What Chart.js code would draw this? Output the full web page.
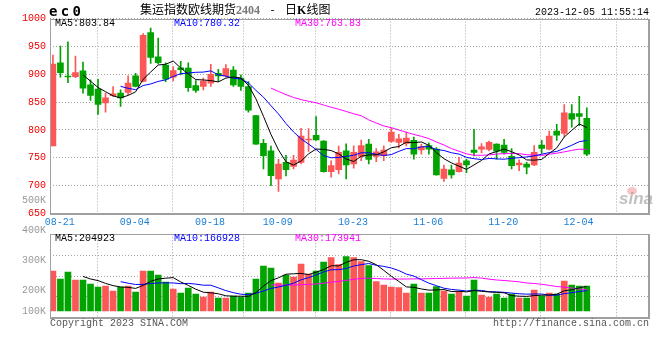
<!DOCTYPE html>
<html><head><meta charset="utf-8">
<script src="https://cdn.jsdelivr.net/npm/chart.js@4.4.0/dist/chart.umd.min.js"></script>
<style>
html,body{margin:0;padding:0;background:#fff;}
#wrap{position:relative;width:660px;height:360px;overflow:hidden;background:#fff;}
canvas{position:absolute;left:0;top:0;}
.t{position:absolute;white-space:pre;font-family:'Liberation Mono',monospace;font-size:10px;line-height:10px;}
</style></head><body>
<div id="wrap">
<canvas id="pc" width="660" height="360" style="width:660px;height:360px"></canvas>
<canvas id="vc" width="660" height="360" style="width:660px;height:360px"></canvas>
<div class="t" style="left:49px;top:4px;font:bold 14px 'DejaVu Sans Mono',monospace;line-height:14px;letter-spacing:3.3px;color:#000">ec0</div>
<div style="position:absolute;left:140px;top:3px;white-space:pre;font-family:'Noto Sans CJK SC',sans-serif;font-size:12px;line-height:12px;color:#000">集运指数欧线期货<span style="font:bold 12px 'Liberation Serif',serif;color:#777">2404</span><span style="display:inline-block;width:25px;text-align:center">-</span>日<b style="font-family:'Liberation Serif',serif">K</b>线图</div>
<div class="t" style="right:11px;top:8px;color:#000">2023-12-05 11:55:14</div>
<div class="t" id="pl0" style="left:55px;top:19px;color:#000"></div>
<div class="t" id="pl1" style="left:174px;top:19px;color:#0000ff"></div>
<div class="t" id="pl2" style="left:295px;top:19px;color:#ff00ff"></div>
<div class="t" id="vl0" style="left:55px;top:234px;color:#000"></div>
<div class="t" id="vl1" style="left:174px;top:234px;color:#0000ff"></div>
<div class="t" id="vl2" style="left:295px;top:234px;color:#ff00ff"></div>
<div style="position:absolute;left:627px;top:187px;width:10px;height:8px;border-radius:50%;background:rgba(240,150,150,0.55)"></div>
<div style="position:absolute;left:619px;top:190px;font:italic bold 17px 'Liberation Sans',sans-serif;line-height:17px;color:rgba(150,150,150,0.6)">sina</div>
<div class="t" style="left:50px;top:319px;color:#555">Copyright 2023 SINA.COM</div>
<div class="t" style="right:11px;top:319px;color:#555">http://finance.sina.com.cn</div>
</div>
<script>
// ---------------- data ----------------
const dates = ['08-18','08-21','08-22','08-23','08-24','08-25','08-28','08-29','08-30','08-31','09-01',
 '09-04','09-05','09-06','09-07','09-08','09-11','09-12','09-13','09-14','09-15',
 '09-18','09-19','09-20','09-21','09-22','09-25','09-26','09-27','09-28',
 '10-09','10-10','10-11','10-12','10-13','10-16','10-17','10-18','10-19','10-20',
 '10-23','10-24','10-25','10-26','10-27','10-30','10-31','11-01','11-02','11-03',
 '11-06','11-07','11-08','11-09','11-10','11-13','11-14','11-15','11-16','11-17',
 '11-20','11-21','11-22','11-23','11-24','11-27','11-28','11-29','11-30','12-01',
 '12-04','12-05'];
const openP = [771.3,920.6,896.0,895.7,905.9,881.0,873.3,848.5,861.4,866.2,867.3,
 897.0,886.9,974.6,931.3,916.5,894.7,911.5,911.0,879.6,878.0,
 884.0,901.8,897.0,907.6,892.9,878.0,825.9,776.1,762.5,
 712.2,741.8,734.7,741.8,782.0,790.4,780.2,725.1,728.7,762.5,
 738.8,752.5,774.4,752.5,753.6,779.2,777.4,775.6,781.5,764.2,
 772.0,765.5,712.9,728.6,725.1,744.7,763.7,765.5,764.9,774.4,
 772.6,752.5,737.0,738.8,737.0,772.6,765.5,798.0,793.9,829.5,
 829.5,820.6];
const highP = [934.3,950.3,958.0,932.5,921.9,889.9,891.0,866.2,878.0,872.0,897.0,
 901.8,972.9,982.8,965.0,920.6,913.5,923.0,920.6,888.6,892.9,
 917.8,908.9,917.2,913.5,898.8,886.8,826.0,783.3,770.8,
 747.2,754.3,754.3,802.8,802.3,824.1,781.0,744.7,770.8,775.0,
 771.3,781.8,783.3,766.7,771.3,803.2,792.1,796.2,787.3,774.4,
 776.7,768.5,737.0,737.0,750.7,747.7,801.0,775.3,780.2,775.0,
 783.3,766.7,746.3,741.8,772.0,781.5,798.0,809.9,845.4,845.7,
 860.2,839.6];
const lowP = [771.3,894.7,885.0,894.0,866.2,853.1,827.7,831.8,860.0,842.4,863.2,
 877.0,886.0,919.5,918.3,886.8,888.0,898.8,869.0,867.3,872.0,
 878.0,886.8,895.0,878.0,870.9,831.8,774.0,729.9,700.0,
 689.6,717.5,729.9,738.8,761.4,781.0,724.0,715.2,721.0,712.2,
 731.2,744.7,738.8,742.9,744.7,777.4,767.6,771.3,747.7,756.6,
 756.6,719.0,707.4,713.4,724.0,723.4,753.4,758.9,762.5,747.7,
 756.6,729.9,726.9,721.0,736.0,757.8,764.0,781.0,788.0,804.9,
 807.6,753.6];
const closeP = [918.3,902.8,895.0,902.8,875.1,862.0,846.0,857.4,865.0,857.4,884.0,
 878.0,969.8,930.2,920.6,891.0,906.4,908.0,875.7,870.9,887.6,
 900.0,896.9,910.0,881.0,878.0,835.3,774.4,753.6,718.0,
 738.8,728.7,745.9,789.1,783.0,782.0,725.1,735.8,759.6,737.0,
 759.6,772.0,747.2,760.7,763.7,796.2,783.8,785.4,756.6,770.3,
 765.5,719.3,729.9,719.3,740.6,737.0,759.6,769.5,777.9,761.7,
 759.6,735.8,740.6,733.0,759.6,766.7,789.1,790.4,830.7,819.3,
 824.1,756.6];
const volume = [330000,264000,321800,255800,255800,222800,198000,206300,165000,198000,206300,
 156800,330000,330000,297000,239300,181500,148500,189800,140300,115500,
 156800,107300,107300,123800,115500,148500,264000,371300,354800,
 231000,297000,280500,387800,305300,330000,404300,439700,382000,448000,
 439700,406700,373700,241700,214500,198000,192200,148500,222800,148500,
 148500,200500,165000,140300,159200,123800,255800,132000,115500,140300,
 107300,140300,107300,107300,173300,123800,148500,140300,247500,214500,
 206300,206300];
const tickDates = ['08-21','09-04','09-18','10-09','10-23','11-06','11-20','12-04'];
const priceTicks = [650,700,750,800,850,900,950,1000];
const volAxisLabels = [500000,400000,300000,200000,100000];
const maDays = [5,10,30];
const priceLegend = ['MA5:803.84','MA10:780.32','MA30:763.83'];
const volLegend = ['MA5:204923','MA10:166928','MA30:173941'];

// ---------------- styling ----------------
const RED = '#fb5757', GREEN = '#00a300';
const MA_COLORS = ['#000000','#0000ff','#ff00ff'];
const MONO = "'Liberation Mono', monospace";
const GRID = '#a6a6a6';

priceLegend.forEach((t,i)=>document.getElementById('pl'+i).textContent=t);
volLegend.forEach((t,i)=>document.getElementById('vl'+i).textContent=t);

function movingAvg(arr, n){
  return arr.map((_, i) => i < n - 1 ? null : arr.slice(i - n + 1, i + 1).reduce((a, b) => a + b, 0) / n);
}
const up = closeP.map((c, i) => c >= openP[i]);
const candleColor = up.map(u => u ? RED : GREEN);
const tickIdx = tickDates.map(d => dates.indexOf(d));

function xAxis(showLabels){
  return {
    type:'linear', min:-0.386, max:79.27, offset:false,
    afterBuildTicks(s){ s.ticks = tickIdx.map(i => ({value: i - 0.1})); },
    afterFit(s){ s.height = showLabels ? 146.5 : 0; },
    grid:{color:GRID, lineWidth:1, drawTicks:false},
    border:{display:false, dash:[1,2]},
    ticks:{display:showLabels, autoSkip:false, maxRotation:0, padding:3, color:'#1a7fd6',
      font:{family:MONO, size:10}, callback:(v, i) => tickDates[i]}
  };
}

const framePlugin = {
  id:'frame',
  afterDatasetsDraw(chart){
    const {ctx, chartArea:a} = chart;
    const l = Math.round(a.left), t = Math.round(a.top), r = Math.round(a.right), b = Math.round(a.bottom);
    ctx.save();
    ctx.fillStyle = '#a0a0a0';
    ctx.fillRect(l, t, r - l, 1);
    ctx.fillRect(l, t, 1, b - t);
    ctx.fillRect(r - 1, t, 2, b - t + 1);
    ctx.fillRect(l, b - 1, r - l + 1, 2);
    ctx.restore();
  }
};

function maSets(src){
  return maDays.map((n, j) => ({
    type:'line', label:'MA'+n,
    data: movingAvg(src, n).map((v, i) => ({x:i, y:v})),
    borderColor: MA_COLORS[j], borderWidth:1, pointRadius:0, spanGaps:false,
    tension:0, order:1
  }));
}

// ---------------- price chart ----------------
new Chart(document.getElementById('pc'), {
  type:'bar',
  data:{
    datasets:[
      {label:'wick', data: dates.map((d, i) => ({x:i, y:[lowP[i], highP[i]]})),
        backgroundColor: candleColor, barThickness:1, grouped:false, order:3, minBarLength:1},
      {label:'body', data: dates.map((d, i) => ({x:i, y:[openP[i], closeP[i]]})),
        backgroundColor: candleColor, barThickness:6, grouped:false, order:2, minBarLength:1},
      ...maSets(closeP)
    ]
  },
  options:{
    responsive:false, animation:false, devicePixelRatio:1, events:[],
    layout:{padding:{top:18.5, right:11, left:0, bottom:0}},
    plugins:{legend:{display:false}, tooltip:{enabled:false}},
    scales:{
      x: xAxis(true),
      y:{
        min:650, max:1000,
        afterBuildTicks(s){ s.ticks = priceTicks.map(v => ({value:v})); },
        afterFit(s){ s.width = 50; },
        grid:{color:GRID, drawTicks:false},
        border:{display:false, dash:[1,2]},
        ticks:{color:'#ee0000', padding:4, font:{family:MONO, size:10}, callback:v => String(v)}
      }
    }
  },
  plugins:[framePlugin]
});

// ---------------- volume chart ----------------
const volLabelPlugin = {
  id:'volLabels',
  afterDraw(chart){
    const {ctx, chartArea:a} = chart;
    ctx.save();
    ctx.font = "10px " + MONO;
    ctx.fillStyle = '#999';
    ctx.textAlign = 'right';
    ctx.textBaseline = 'middle';
    volAxisLabels.forEach(v => {
      let y = a.bottom - 27 - (v - 200000) * 0.0003;
      y = Math.min(y, a.bottom - 6.7);
      ctx.fillText((v / 1000) + 'K', a.left - 4, y);
    });
    ctx.restore();
  }
};

new Chart(document.getElementById('vc'), {
  type:'bar',
  data:{
    datasets:[
      {label:'vol', data: volume.map((v, i) => ({x:i, y:v})),
        backgroundColor: candleColor, barThickness:6, grouped:false, order:2},
      ...maSets(volume)
    ]
  },
  options:{
    responsive:false, animation:false, devicePixelRatio:1, events:[],
    layout:{padding:{top:234.3, right:11, left:0, bottom:42.3}},
    plugins:{legend:{display:false}, tooltip:{enabled:false}},
    scales:{
      x: xAxis(false),
      y:{
        min:-55300, max:632800,
        afterBuildTicks(s){ const q = (s.max - s.min) / 4; s.ticks = [1,2,3].map(j => ({value: s.min + q * j})); },
        afterFit(s){ s.width = 50; },
        grid:{color:GRID, drawTicks:false},
        border:{display:false, dash:[1,2]},
        ticks:{display:false}
      }
    }
  },
  plugins:[framePlugin, volLabelPlugin]
});
</script>
</body></html>
